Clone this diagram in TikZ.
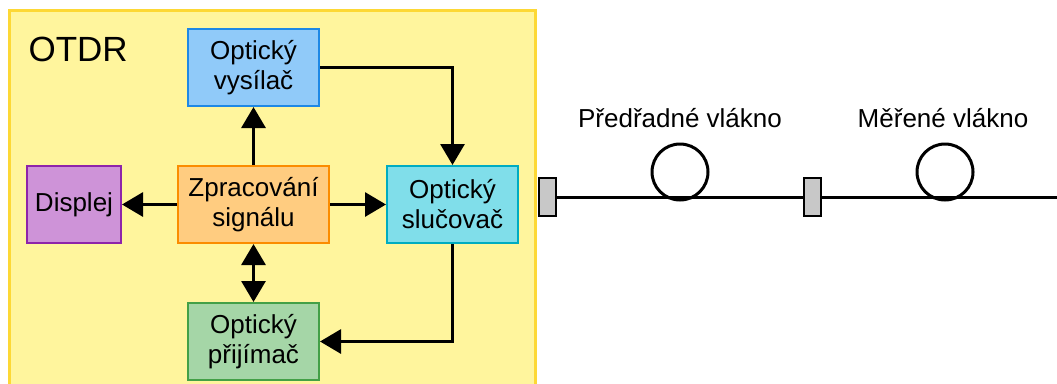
\documentclass[tikz,border=0pt]{standalone}
\usepackage{fontspec}
\setmainfont{Liberation Sans}
\usetikzlibrary{arrows.meta}

\definecolor{otdrfill}{HTML}{FFF59D}
\definecolor{otdrline}{HTML}{FDD835}
\definecolor{vysfill}{HTML}{90CAF9}
\definecolor{vysline}{HTML}{1E88E5}
\definecolor{zprfill}{HTML}{FFCC80}
\definecolor{zprline}{HTML}{FB8C00}
\definecolor{disfill}{HTML}{CE93D8}
\definecolor{disline}{HTML}{8E24AA}
\definecolor{slufill}{HTML}{80DEEA}
\definecolor{sluline}{HTML}{00ACC1}
\definecolor{prifill}{HTML}{A5D6A7}
\definecolor{priline}{HTML}{43A047}
\definecolor{konfill}{HTML}{C8C8C8}

\begin{document}
\begin{tikzpicture}[x=1pt,y=-1pt,
  blok/.style={draw,line width=2pt,minimum width=131pt,minimum height=77pt,
    inner sep=0pt,align=center,font=\fontsize{26}{30}\selectfont},
  sipka/.style={line width=3pt,-{Triangle[length=21pt,width=24pt]}},
  dvojsipka/.style={line width=3pt,{Triangle[length=21pt,width=24pt]}-{Triangle[length=21pt,width=24pt]}},
  konektor/.style={draw,fill=konfill,line width=1.5pt,minimum width=17pt,minimum height=38pt,inner sep=0pt},
  civka/.style={circle,draw,line width=3pt,minimum size=56pt,inner sep=0pt},
  popis/.style={font=\fontsize{26}{30}\selectfont}]
        \useasboundingbox (0,0) rectangle (1057,383);
        % OTDR box
        \draw[fill=otdrfill,draw=otdrline,line width=3pt] (9,10) rectangle (535,400);
        \draw (25,49) node[anchor=west,font=\fontsize{35}{40}\selectfont] (otdr) {OTDR};
        % blocks
        \draw (253.5,67.5) node[blok,fill=vysfill,draw=vysline] (V) {Optický\\vysílač};
        \draw (253.5,204.5) node[blok,fill=zprfill,draw=zprline,minimum width=151pt] (Z) {Zpracování\\signálu};
        \draw (74,204.5) node[blok,fill=disfill,draw=disline,minimum width=94pt] (D) {Displej};
        \draw (452.5,204.5) node[blok,fill=slufill,draw=sluline] (S) {Optický\\slučovač};
        \draw (253.5,341.5) node[blok,fill=prifill,draw=priline] (P) {Optický\\přijímač};
        \draw[sipka] (Z)--(V);
        \draw[sipka] (Z)--(D);
        \draw[sipka] (Z)--(S);
        \draw[dvojsipka] (Z)--(P);
        \draw[sipka] (V.east) -| (S.north);
        \draw[sipka] (S.south) |- (P.east);
        % fibre
        \coordinate (konec) at (1057,197);
        \draw (680,172) node[civka] (C1) {};
        \draw (945,172) node[civka] (C2) {};
        \draw (680,118) node[popis] (L1) {Předřadné vlákno};
        \draw (943,118) node[popis] (L2) {Měřené vlákno};
        \draw (547.5,197) node[konektor] (K1) {};
        \draw (812.5,197) node[konektor] (K2) {};
        \draw[line width=3pt] (K1.east)--(K2.west);
        \draw[line width=3pt] (K2.east)--(konec);
        \end{tikzpicture}
\end{document}
